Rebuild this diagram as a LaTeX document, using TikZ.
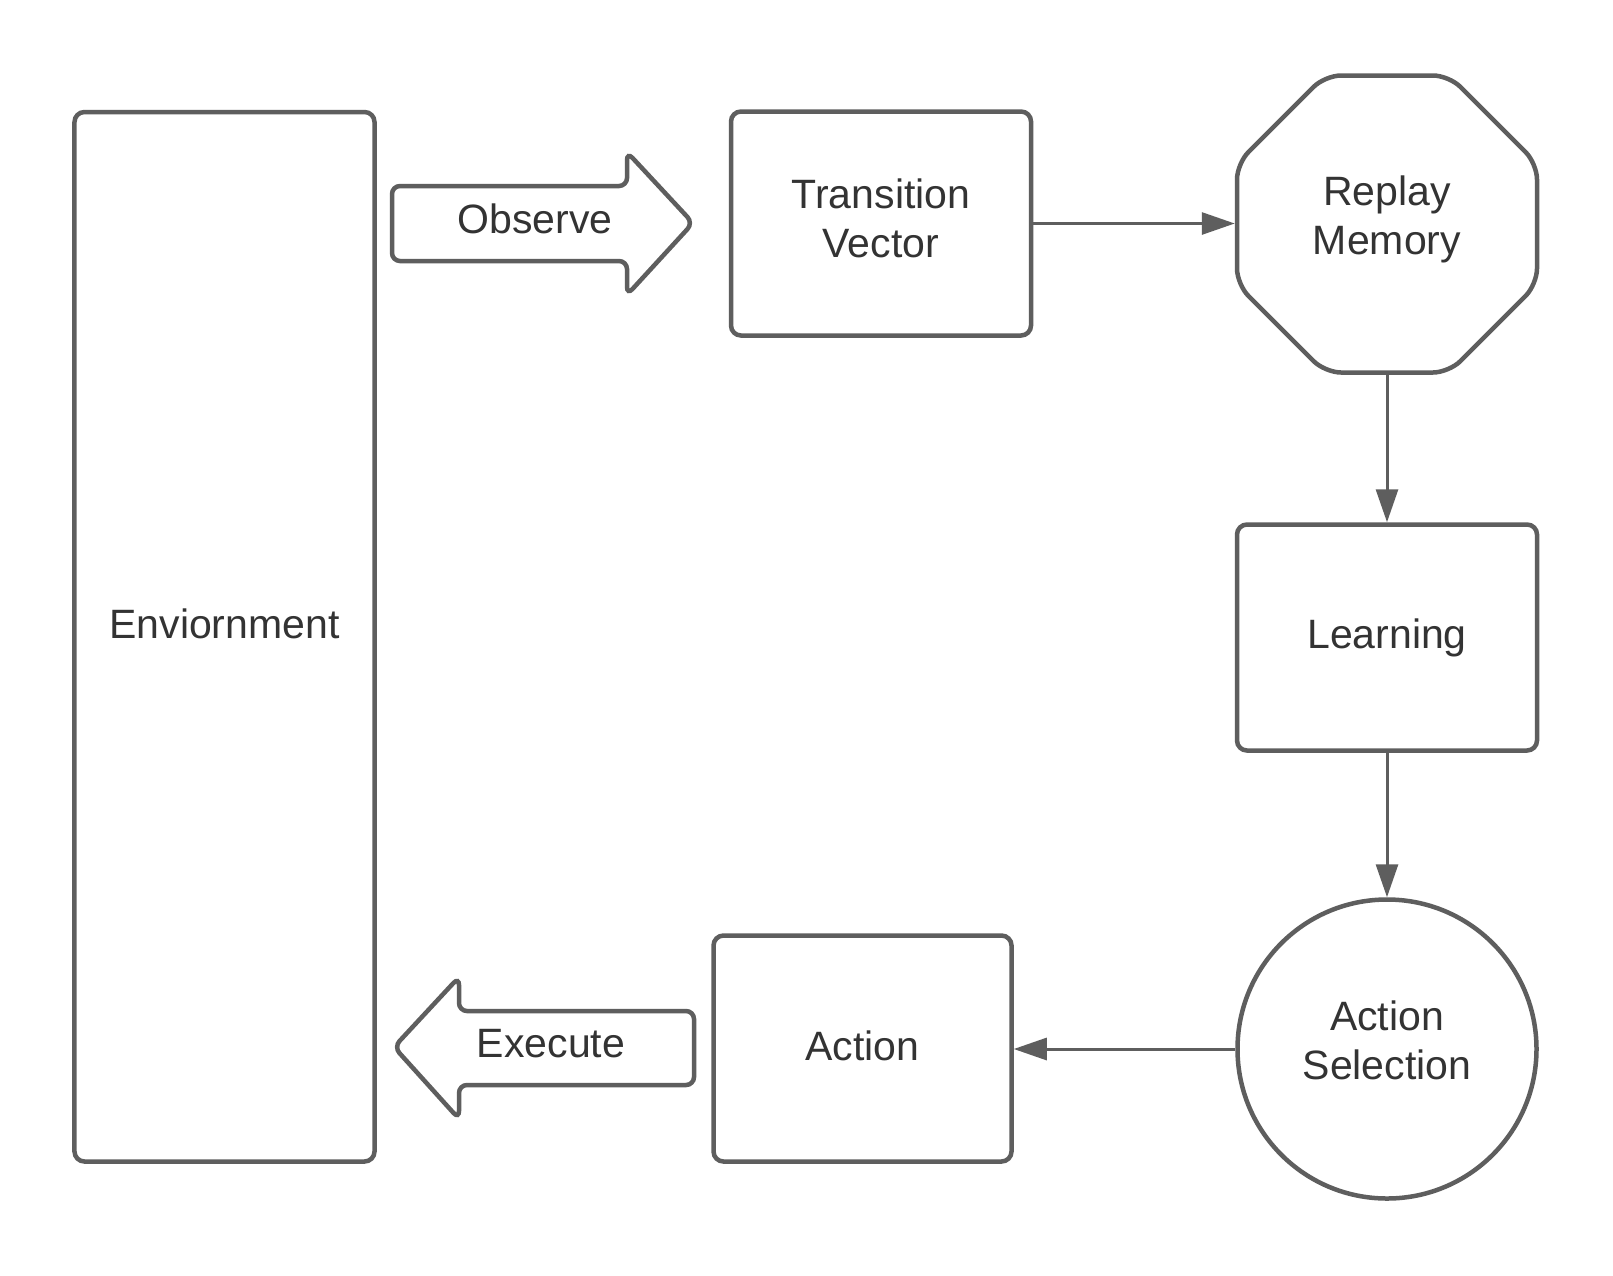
\documentclass[tikz,border=0pt]{standalone}
\usepackage{fontspec}
\setmainfont{Liberation Sans}
\usetikzlibrary{arrows.meta}
\definecolor{lc}{RGB}{94,94,94}
\definecolor{tc}{RGB}{51,51,51}
\begin{document}
\begin{tikzpicture}[x=1bp,y=-1bp,
  lbl/.style={font=\fontsize{41bp}{49bp}\selectfont, text=tc, align=center},
  shp/.style={draw=lc, line width=4.5bp},
  box/.style={shp, rounded corners=10bp, minimum width=300bp, minimum height=224bp, inner sep=0pt},
  conn/.style={draw=lc, line width=3bp, -{Triangle[length=33bp,width=22bp]}},
]
\useasboundingbox (0,0) rectangle (1613,1275);
\fill[white] (0,0) rectangle (1613,1275);

% Environment
\node[box, minimum height=1049.5bp, label={[lbl, yshift=13bp]center:Enviornment}] (env) at (224.5,636.75) {};

% Observe block arrow
\draw[shp, rounded corners=8bp] (392,186) -- (627,186) -- (627,152) -- (693,223) -- (627,295) -- (627,261) -- (392,261) -- cycle;
\node[lbl] (obs) at (535,219) {Observe};

% Transition Vector
\node[box, label={[lbl, yshift=5bp]center:Transition\\Vector}] (tv) at (881,223.5) {};

% Replay Memory octagon
\draw[shp, rounded corners=16bp] (1325,75.5) -- (1449,75.5) -- (1537,163.5) -- (1537,284.5) -- (1449,372.5) -- (1325,372.5) -- (1237,284.5) -- (1237,163.5) -- cycle;
\node[minimum width=300bp, minimum height=297bp, inner sep=0pt, outer sep=2.25bp, label={[lbl, yshift=5bp]center:Replay\\Memory}] (rm) at (1387,224) {};

% Learning
\node[box, minimum height=226bp, label={[lbl]center:Learning}] (learn) at (1387,637.5) {};

% Action Selection
\node[shp, circle, minimum size=299bp, inner sep=0pt, label={[lbl, yshift=9bp]center:Action\\Selection}] (as) at (1387,1049) {};

% Action
\node[box, minimum width=298bp, minimum height=226bp, label={[lbl, yshift=3bp]center:Action}] (act) at (862.5,1048.5) {};

% Execute block arrow
\draw[shp, rounded corners=8bp] (694,1011) -- (459,1011) -- (459,977) -- (394,1047) -- (459,1119) -- (459,1085) -- (694,1085) -- cycle;
\node[lbl] (exe) at (551,1044) {Execute};

% connectors
\draw[conn] (tv.east) -- (tv.east -| rm.west);
\draw[conn] (rm.south) -- (learn.north);
\draw[conn] (learn.south) -- (as.north);
\draw[conn] (as.west) -- (as.west -| act.east);
\end{tikzpicture}
\end{document}
